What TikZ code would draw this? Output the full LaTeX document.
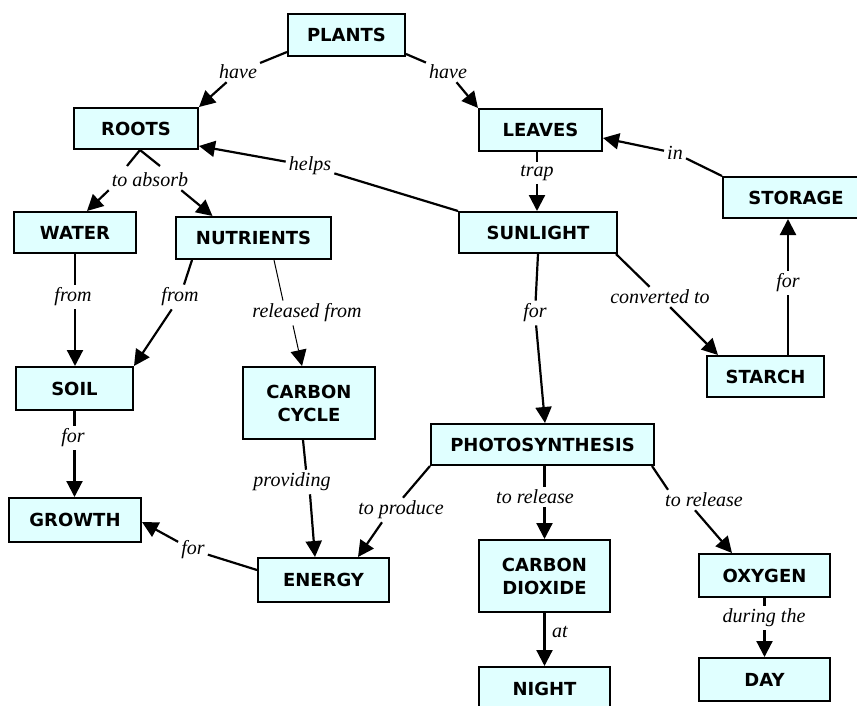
\documentclass[tikz,border=0pt]{standalone}
\usepackage{fontspec}
\newfontfamily\cfont{DejaVu Sans}
\newfontfamily\lfont{Liberation Serif}
\usetikzlibrary{arrows.meta}
\definecolor{boxfill}{RGB}{224,255,255}
\tikzset{
  concept/.style={draw=black, line width=2.4pt, fill=boxfill, align=center, inner sep=0pt,
    font=\cfont\bfseries\fontsize{18}{23}\selectfont},
  lab/.style={font=\lfont\itshape\fontsize{20}{22}\selectfont, inner sep=3pt},
  link/.style={line width=2.2pt, draw=black},
  arr/.style={link, -{Triangle[length=16pt,width=16pt]}},
}
\begin{document}
\begin{tikzpicture}[x=1pt,y=1pt]
\useasboundingbox (0,0) rectangle (857,-706);
\fill[white] (0,0) rectangle (857,-706);
% concepts
\node[concept, minimum width=116.6pt, minimum height=41.6pt] (plants) at (346.5,-35) {PLANTS};
\node[concept, minimum width=123.6pt, minimum height=40.6pt] (roots) at (136,-128.5) {ROOTS};
\node[concept, minimum width=122.6pt, minimum height=41.6pt] (leaves) at (540.5,-130) {LEAVES};
\node[concept, minimum width=145.6pt, minimum height=40.6pt] (storage) at (796,-197.5) {STORAGE};
\node[concept, minimum width=121.6pt, minimum height=40.6pt] (water) at (75,-232.5) {WATER};
\node[concept, minimum width=154.6pt, minimum height=41.6pt] (nutrients) at (253.5,-238) {NUTRIENTS};
\node[concept, minimum width=157.6pt, minimum height=40.6pt] (sunlight) at (538,-232.5) {SUNLIGHT};
\node[concept, minimum width=116.6pt, minimum height=42.6pt] (soil) at (74.5,-388.5) {SOIL};
\node[concept, minimum width=131.6pt, minimum height=71.6pt] (carbon) at (309,-403) {CARBON\\CYCLE};
\node[concept, minimum width=116.6pt, minimum height=40.6pt] (starch) at (765.5,-376.5) {STARCH};
\node[concept, minimum width=222.6pt, minimum height=40.6pt] (photo) at (542.5,-444.5) {PHOTOSYNTHESIS};
\node[concept, minimum width=131.6pt, minimum height=43.6pt] (growth) at (75,-520) {GROWTH};
\node[concept, minimum width=130.6pt, minimum height=43.6pt] (energy) at (323.5,-580) {ENERGY};
\node[concept, minimum width=130.6pt, minimum height=71.6pt] (co2) at (544.5,-576) {CARBON\\DIOXIDE};
\node[concept, minimum width=130.6pt, minimum height=42.6pt] (oxygen) at (764.5,-575.5) {OXYGEN};
\node[concept, minimum width=130.6pt, minimum height=42.6pt] (night) at (544.5,-688.5) {NIGHT};
\node[concept, minimum width=130.6pt, minimum height=42.6pt] (day) at (764.5,-679.5) {DAY};
% linking phrases
\node[lab] (have1) at (238,-72) {have};
\node[lab] (have2) at (448,-72) {have};
\node[lab] (toabsorb) at (150,-180) {to absorb};
\node[lab] (helps) at (310,-166) {helps};
\node[lab] (trap) at (537,-173) {trap};
\node[lab] (in) at (675,-153) {in};
\node[lab] (conv) at (660,-297) {converted to};
\node[lab] (forsun) at (535,-313) {for};
\node[lab] (forst) at (788,-283) {for};
\node[lab] (from1) at (73,-297) {from};
\node[lab] (from2) at (180,-297) {from};
\node[lab] (rel) at (307,-313) {released from};
\node[lab] (forsoil) at (73,-438) {for};
\node[lab] (prov) at (292,-482) {providing};
\node[lab] (prod) at (401,-510) {to produce};
\node[lab] (foren) at (193,-550) {for};
\node[lab] (trel1) at (535,-497) {to release};
\node[lab] (trel2) at (704,-500) {to release};
\node[lab] (at) at (560,-632) {at};
\node[lab] (during) at (764,-618) {during the};
% connectors
\draw[link] ([yshift=5pt]plants.south west) -- (have1);
\draw[arr] (have1) -- (roots.north east);
\draw[link] ([yshift=3pt]plants.south east) -- (have2);
\draw[arr] (have2) -- (leaves.north west);
\draw[link] ([xshift=4pt]roots.south) -- ++(-13,-16);
\draw[link] ([xshift=4pt]roots.south) -- ++(20,-16);
\draw[arr] (toabsorb.south west) -- ([xshift=12pt]water.north);
\draw[arr] ([xshift=-10pt]toabsorb.south east) -- ([xshift=-41pt]nutrients.north);
\draw[link] (sunlight.north west) -- (helps);
\draw[arr] (helps) -- ([yshift=4pt]roots.south east);
\draw[link] (trap.north |- leaves.south) -- (trap);
\draw[arr] (trap) -- (trap.south |- sunlight.north);
\draw[link] (storage.north west) -- (in);
\draw[arr] (in) -- ([yshift=-8pt]leaves.east);
\draw[link] (starch.north -| forst) -- (forst);
\draw[arr] (forst) -- (storage.south -| forst);
\draw[link] ([xshift=-2pt]sunlight.south east) -- (conv);
\draw[arr] (conv) -- ([xshift=12pt]starch.north west);
\draw[link] (sunlight.south) -- (forsun);
\draw[arr] (forsun) -- ([xshift=2.5pt]photo.north);
\draw[link] (water.south) -- (from1.north -| water.south);
\draw[arr] (from1.south -| water.south) -- (soil.north -| water.south);
\draw[link] ([xshift=17pt]nutrients.south west) -- (from2);
\draw[arr] (from2) -- (soil.north east);
\draw[link, line width=1pt] ([xshift=20.5pt]nutrients.south) -- ([xshift=-24pt]rel.north);
\draw[arr, line width=1pt] ([xshift=-14pt]rel.south) -- ([xshift=-7pt]carbon.north);
\draw[link] (soil.south) -- (forsoil.north -| soil.south);
\draw[arr] (forsoil.south -| soil.south) -- (growth.north -| soil.south);
\draw[link] ([xshift=-6pt]carbon.south) -- ([xshift=14pt]prov.north);
\draw[arr] ([xshift=18pt]prov.south) -- ([xshift=-8.5pt]energy.north);
\draw[link] (photo.south west) -- ([xshift=2pt]prod.north);
\draw[arr] ([xshift=-19pt]prod.south) -- ([xshift=-32pt]energy.north east);
\draw[link] ([yshift=10pt]energy.west) -- (foren);
\draw[arr] (foren) -- ([yshift=-2pt]growth.east);
\draw[link] (photo.south -| co2.north) -- (trel1.north -| co2.north);
\draw[arr] (trel1.south -| co2.north) -- (co2.north);
\draw[link] ([xshift=-3pt]photo.south east) -- ([xshift=-36pt]trel2.north);
\draw[arr] ([xshift=-9pt]trel2.south) -- ([xshift=34pt]oxygen.north west);
\draw[arr] (co2.south) -- (night.north);
\draw[link] (oxygen.south) -- (during.north -| oxygen.south);
\draw[arr] (during.south -| oxygen.south) -- (day.north);
\end{tikzpicture}
\end{document}
